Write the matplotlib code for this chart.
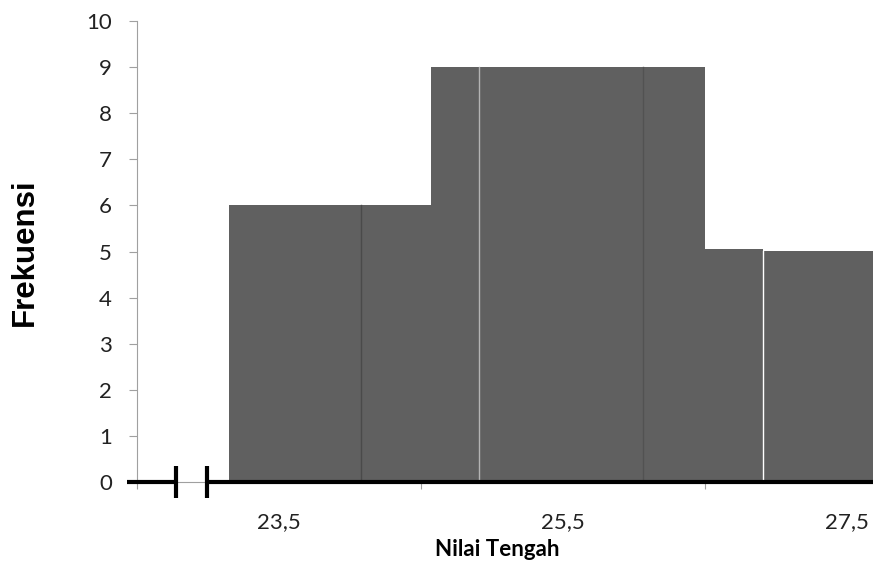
import matplotlib.pyplot as plt

# bar edges (in "Nilai Tengah" units) and heights
edges = [23.15, 24.08, 24.57, 24.91, 26.06, 26.5, 26.91, 27.75]
freq = [6, 6, 9, 9, 9, 5.05, 5.02]
# colour of the thin line on each inner edge (None = no visible line)
sep_colors = ['#4a4a4a', None, '#b4b4b4', '#525252', None, '#ffffff']
label_pos = [23.5, 25.5, 27.5]
labels = ['23,5', '25,5', '27,5']
tick_pos = [22.5, 24.5, 26.5]
yticks = list(range(0, 11))

fig = plt.figure(figsize=(8.73, 5.88), dpi=100)
ax = fig.add_axes([137 / 873, 1 - 482 / 588, 1 - 137 / 873, (482 - 21) / 588])

widths = [edges[i + 1] - edges[i] for i in range(len(freq))]
ax.bar(edges[:-1], freq, widths, align='edge', color='#606060', edgecolor='none', zorder=2)
# thin separators between the rectangles
for i, c in enumerate(sep_colors):
    if c is None:
        continue
    ax.plot([edges[i + 1]] * 2, [0, min(freq[i], freq[i + 1])], color=c, lw=1, zorder=3)

ax.set_xlim(22.5, 22.5 + (873 - 137) / 142)
ax.set_ylim(0, 10)

for s in ['top', 'right']:
    ax.spines[s].set_visible(False)
ax.spines['left'].set_color('#a0a0a0')
ax.spines['bottom'].set_color('#a0a0a0')

ax.set_yticks(yticks)
ax.tick_params(axis='y', colors='#a0a0a0', length=6, labelcolor='#222222', labelsize=16, pad=12)
ax.set_xticks(tick_pos)
ax.set_xticklabels([''] * len(tick_pos))
ax.set_xticks(label_pos, minor=True)
ax.set_xticklabels(labels, minor=True)
ax.tick_params(axis='x', which='major', colors='#a0a0a0', length=5)
ax.tick_params(axis='x', which='minor', length=0, labelsize=16, pad=22, labelcolor='#222222')
for t in ax.get_xticklabels(minor=True) + ax.get_yticklabels():
    t.set_fontfamily('Lato')

# axis break marks
x0 = 22.5 - 10 / 142
ax.plot([x0, 22.5 + 39 / 142], [0, 0], color='black', lw=3, clip_on=False, zorder=4, solid_capstyle='butt')
ax.plot([22.5 + 70 / 142, 28.0], [0, 0], color='black', lw=3, clip_on=False, zorder=4, solid_capstyle='butt')
for xb in [22.5 + 39 / 142, 22.5 + 70 / 142]:
    ax.plot([xb, xb], [-0.35, 0.35], color='black', lw=3, clip_on=False, zorder=4, solid_capstyle='butt')

fig.text(25 / 873, 1 - 252 / 588, 'Frekuensi', rotation=90, ha='center', va='center',
         fontsize=22.5, fontweight='bold', family='Liberation Sans')
fig.text(497 / 873, 1 - 550 / 588, 'Nilai Tengah', ha='center', va='center',
         fontsize=16, fontweight='bold', family='Lato')

fig.savefig('out.png', dpi=100)
